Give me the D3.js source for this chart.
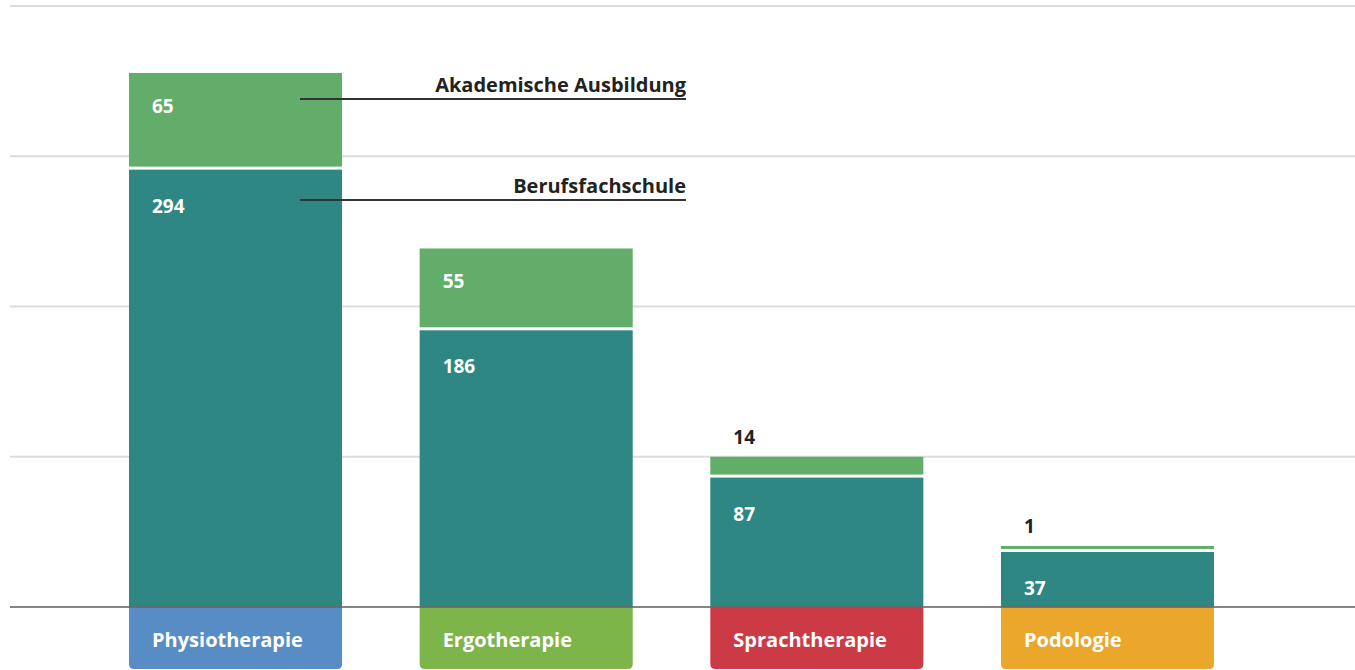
<!DOCTYPE html>
<html>
<head>
<meta charset="utf-8">
<script src="https://cdn.jsdelivr.net/npm/d3@7"></script>
<style>
  body { margin: 0; background: #fff; }
  text { font-family: "Open Sans", sans-serif; font-weight: 700; }
</style>
</head>
<body>
<script>
// data
var categories = ["Physiotherapie", "Ergotherapie", "Sprachtherapie", "Podologie"];
var schule = [294, 186, 87, 37];      // Berufsfachschule
var akademisch = [65, 55, 14, 1];     // Akademische Ausbildung
var catColors = ["#578cc4", "#7db54b", "#cc3b45", "#eba72c"];
var gridSteps = [0, 1, 2, 3, 4];

var w = 1355, h = 670;
var base = 607;

var svg = d3.select("body").append("svg")
    .attr("width", w)
    .attr("height", h);

// x band scale for the bars
var x = d3.scaleBand()
    .domain(categories)
    .range([129, 1214])
    .paddingInner(0.267)
    .paddingOuter(0);

// value scale
var y = d3.scaleLinear()
    .domain([0, 404])
    .range([base, 6]);

// grid scale (lines every ~150px)
var g = d3.scaleLinear()
    .domain([0, 4])
    .range([base, 6]);

// gridlines
svg.selectAll(".grid")
    .data(gridSteps.slice(1))
    .enter().append("line")
    .attr("class", "grid")
    .attr("x1", 10).attr("x2", w)
    .attr("y1", function(d){ return g(d); })
    .attr("y2", function(d){ return g(d); })
    .style("stroke", "#dcdcdc")
    .style("stroke-width", 2);

var bw = x.bandwidth();
var gap = 3;

// top of the green segment (at least 3px tall)
function akadTop(d, i){
    return Math.min(y(schule[i] + d), y(schule[i]) - gap - 3);
}

// category boxes below the baseline (rounded bottom corners)
svg.selectAll(".cat")
    .data(categories)
    .enter().append("path")
    .attr("class", "cat")
    .attr("d", function(d){
        var x0 = x(d), x1 = x0 + bw, y0 = base, y1 = 669, r = 5;
        return "M" + x0 + "," + y0 + "H" + x1 + "V" + (y1 - r) +
            "Q" + x1 + "," + y1 + " " + (x1 - r) + "," + y1 +
            "H" + (x0 + r) + "Q" + x0 + "," + y1 + " " + x0 + "," + (y1 - r) + "Z";
    })
    .style("fill", function(d, i){ return catColors[i]; });

svg.selectAll(".catLabel")
    .data(categories)
    .enter().append("text")
    .attr("class", "catLabel")
    .attr("x", function(d){ return x(d) + 23; })
    .attr("y", 647)
    .style("fill", "#fff")
    .style("font-size", "20px")
    .text(function(d){ return d; });

// Berufsfachschule segments
svg.selectAll(".schule")
    .data(schule)
    .enter().append("rect")
    .attr("class", "schule")
    .attr("x", function(d, i){ return x(categories[i]); })
    .attr("width", bw)
    .attr("y", function(d){ return y(d); })
    .attr("height", function(d){ return base - y(d); })
    .style("fill", "#2e8783");

// Akademische Ausbildung segments
svg.selectAll(".akad")
    .data(akademisch)
    .enter().append("rect")
    .attr("class", "akad")
    .attr("x", function(d, i){ return x(categories[i]); })
    .attr("width", bw)
    .attr("y", akadTop)
    .attr("height", function(d, i){ return y(schule[i]) - gap - akadTop(d, i); })
    .style("fill", "#62ad69");

// value labels
svg.selectAll(".schuleLabel")
    .data(schule)
    .enter().append("text")
    .attr("class", "schuleLabel")
    .attr("x", function(d, i){ return x(categories[i]) + 23; })
    .attr("y", function(d){ return y(d) + 43; })
    .style("fill", "#fff")
    .style("font-size", "19px")
    .text(function(d){ return d; });

svg.selectAll(".akadLabel")
    .data(akademisch)
    .enter().append("text")
    .attr("class", "akadLabel")
    .attr("x", function(d, i){ return x(categories[i]) + 23; })
    .attr("y", function(d, i){
        var top = akadTop(d, i);
        return d < 20 ? top - 13 : top + 40;
    })
    .style("fill", function(d){ return d < 20 ? "#222" : "#fff"; })
    .style("font-size", "19px")
    .text(function(d){ return d; });

// baseline drawn over the bars
svg.append("line")
    .attr("x1", 10).attr("x2", w)
    .attr("y1", base).attr("y2", base)
    .style("stroke", "#666")
    .style("stroke-opacity", 0.8)
    .style("stroke-width", 2);

// legend callouts on the first bar
var legend = [
    { name: "Akademische Ausbildung", ly: 99 },
    { name: "Berufsfachschule", ly: 200 }
];
var lx0 = x(categories[0]) + 171, lx1 = 686;

svg.selectAll(".legLine")
    .data(legend)
    .enter().append("line")
    .attr("class", "legLine")
    .attr("x1", lx0).attr("x2", lx1)
    .attr("y1", function(d){ return d.ly; })
    .attr("y2", function(d){ return d.ly; })
    .style("stroke", "#333")
    .style("stroke-width", 2);

svg.selectAll(".legText")
    .data(legend)
    .enter().append("text")
    .attr("class", "legText")
    .attr("x", lx1)
    .attr("y", function(d){ return d.ly - 7; })
    .attr("text-anchor", "end")
    .style("fill", "#222")
    .style("font-size", "20px")
    .text(function(d){ return d.name; });
</script>
</body>
</html>
